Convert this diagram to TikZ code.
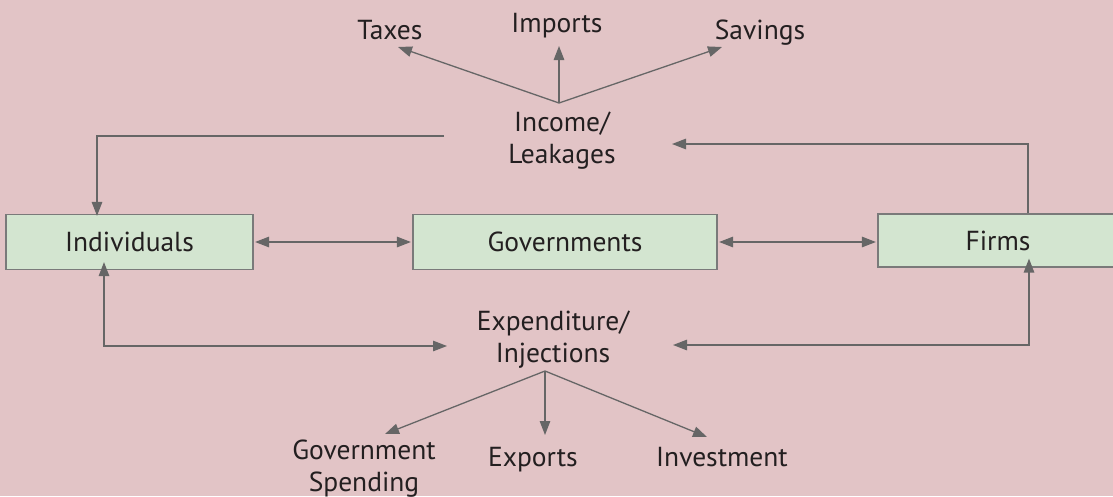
\documentclass[tikz,border=0pt]{standalone}
\usepackage{fontspec}
\setmainfont{PT Sans}
\usetikzlibrary{arrows.meta}
\definecolor{bg}{HTML}{E2C4C6}
\definecolor{boxfill}{HTML}{D3E5D0}
\definecolor{boxline}{HTML}{7A7A7A}
\definecolor{arr}{HTML}{666666}
\definecolor{txt}{HTML}{231F20}
\tikzset{
  box/.style={draw=boxline, fill=boxfill, line width=1.2pt, minimum height=55pt, inner sep=0pt, text=txt, font=\fontsize{27.5}{32}\selectfont},
  lbl/.style={text=txt, font=\fontsize{27.5}{32}\selectfont, align=center, inner sep=0pt, anchor=base},
  con/.style={draw=arr, line width=1.3pt, -{Triangle[length=14pt,width=10.5pt]}},
  con2/.style={draw=arr, line width=1.3pt, {Triangle[length=14pt,width=10.5pt]}-{Triangle[length=14pt,width=10.5pt]}}
}
\begin{document}
\begin{tikzpicture}[x=1pt,y=-1pt]
\fill[bg] (0,0) rectangle (1113,496);
\useasboundingbox (0,0) rectangle (1113,496);
% boxes
\node[box, minimum width=247pt] (ind) at (129.5,242) {Individuals};
\node[box, minimum width=304pt] (gov) at (565,242) {Governments};
\node[box, minimum width=240pt, minimum height=53pt] (firm) at (998,240.5) {Firms};
% labels (base = baseline of last line)
\node[lbl] (inc) at (562,163) {Income/\\Leakages};
\node[lbl] (exp) at (553,362) {Expenditure/\\Injections};
\node[lbl] (tax) at (390,39) {Taxes};
\node[lbl] (imp) at (557,32) {Imports};
\node[lbl] (sav) at (760,39) {Savings};
\node[lbl] (gs) at (364,491) {Government\\Spending};
\node[lbl] (exo) at (533,466) {Exports};
\node[lbl] (inv) at (722,466) {Investment};
% fan points and corners
\coordinate (topo) at (559,103);
\coordinate (boto) at (545,371);
\coordinate (taxt) at (398,47);
\coordinate (impt) at (559,46);
\coordinate (savt) at (722,47);
\coordinate (gst) at (385,434);
\coordinate (exot) at (545,435);
\coordinate (invt) at (707,437);
\coordinate (incl) at (444,136);
\coordinate (incr) at (672,144);
\coordinate (expl) at (447,346);
\coordinate (expr) at (673,345);
% top fan
\draw[con] (topo) -- (taxt);
\draw[con] (topo) -- (impt);
\draw[con] (topo) -- (savt);
% bottom fan
\draw[con] (boto) -- (gst);
\draw[con] (boto) -- (exot);
\draw[con] (boto) -- (invt);
% horizontal between boxes
\draw[con2] ([xshift=1.5pt]ind.east) -- ([xshift=-1.5pt]ind.east -| gov.west);
\draw[con2] ([xshift=1.5pt]gov.east) -- ([xshift=-1.5pt]gov.east -| firm.west);
% income loops
\draw[con] (incl) -| ([yshift=-2pt]ind.north -| 97,0);
\draw[con] (firm.north -| 1028,0) |- (incr);
% expenditure loops
\draw[con2] ([yshift=8pt]ind.south -| 104,0) |- (expl);
\draw[con2] ([yshift=9pt]firm.south -| 1029,0) |- (expr);
\end{tikzpicture}
\end{document}
